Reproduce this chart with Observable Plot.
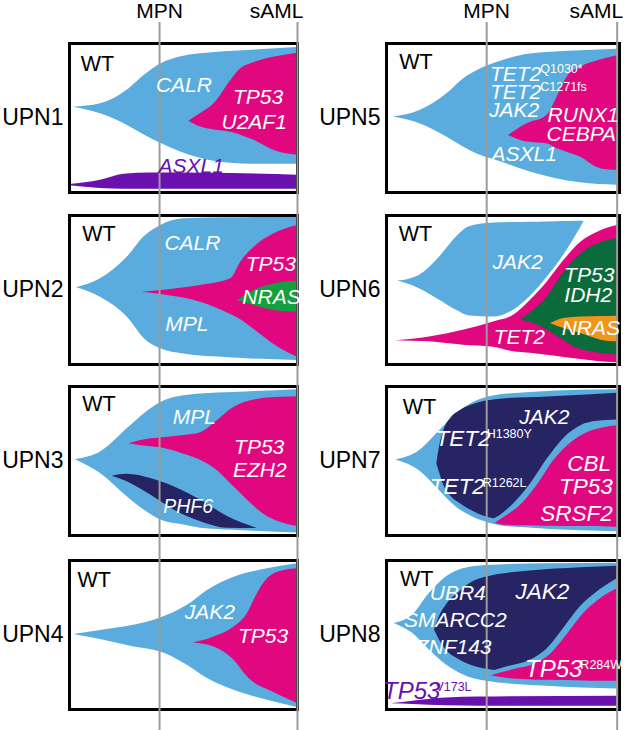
<!DOCTYPE html>
<html><head><meta charset="utf-8">
<script src="https://cdn.jsdelivr.net/npm/d3@7"></script>
<script src="https://cdn.jsdelivr.net/npm/@observablehq/plot@0.6"></script>
<style>
body{margin:0;background:#fff;}
#chart{display:flex;width:627px;height:730px;overflow:hidden;}
#c0{width:313px}#c1{width:314px}
#c0 svg,#c1 svg{display:block}
</style></head>
<body><div id="chart"><div id="c0"></div><div id="c1"></div></div>
<script>
// ---- column titles & time points (x in % of panel box width) ----
const stages = ["MPN", "sAML"];
const mpnX = [39.5, 43];     // left column, right column
const samlX = [100, 99];

// ---- clones: [time, top, bottom] (y in % of panel box height, 0 = top) ----
// UPN1
const upn1_CALR = [[1.6,42.8,42.8],[13.6,40.5,47.2],[26,30.5,55.5],[33,21.2,61.5],[40,13.8,67],[49,8.9,73],[64,6,79.2],[80,4.5,81],[100,2.7,81.1]];
const upn1_TP53 = [[52.4,52.1,52.1],[57.5,47,56.1],[63.4,40.5,58],[70.7,25,59.5],[75.1,17,61.5],[81,12.7,65],[90,9,72],[100,6.5,75]];
const upn1_ASXL1 = [[0,94.7,95.5],[13.6,91.8,97.3],[23.9,87.8,97.8],[35.6,86.9,97.8],[60,87,97.8],[100,88.4,97.8]];
// UPN2
const upn2_CALR = [[3.1,48.5,48.5],[13.6,42.5,54.8],[25.3,28,68.2],[33,14,83],[40,6.7,89.5],[50,2.2,93],[70,1.5,95.5],[100,1.1,97.3]];
const upn2_TP53 = [[31.9,51.5,51.5],[40,50.3,53],[57.5,47,58.2],[70.7,42.5,66.5],[75.1,31.3,70],[81,21.3,76.5],[89.7,12.3,86.5],[100,6.7,95.1]];
const upn2_NRAS = [[73.6,57,57],[81,50.3,60.4],[89.7,45.9,63.8],[100,44.1,64.9]];
// UPN3
const upn3_MPL = [[2.6,49.1,49.1],[13.6,44,58.4],[25.3,28.4,74],[32.7,18.4,82.9],[40,10.7,89.6],[50.2,6.2,93],[57.5,5,95.1],[72.2,4,96.5],[100,2.2,98.4]];
const upn3_TP53 = [[26.1,38.4,38.4],[35.6,35.1,40.5],[40,34.5,41.1],[50.2,32.9,45.5],[57.5,31,49.5],[64.9,22.9,56.5],[72.2,14,67.5],[86.8,7.8,87.3],[100,6.9,94]];
const upn3_PHF6 = [[18.7,60.2,60.2],[25.3,58.9,64],[35.6,61.8,72.9],[45.8,67.3,82.9],[57.5,76.2,90.7],[69.3,87.3,95.1],[82.4,95.3,95.3]];
// UPN4
const upn4_JAK2 = [[1.9,49.6,49.6],[13.6,46.9,53.1],[28.3,43.5,58],[40,38.6,61.4],[51.7,30.1,70.3],[60.5,20.1,79.2],[72.2,11.2,87.1],[86.8,5.6,93.8],[100,2.2,98.7]];
const upn4_TP53 = [[54.3,55.4,55.4],[63.4,51.3,58],[72.2,44.6,67],[78,35.7,78.1],[82.4,22.3,83.5],[86.8,12.3,86.5],[94.1,6.7,92],[100,5.6,96]];
// UPN5
const upn5_TET2 = [[2.9,49.4,49.4],[14.3,45,53.9],[25.8,33.9,62.8],[33,23.8,69.5],[40.2,17.1,75],[47.3,12.7,78.5],[61.7,7.1,86.2],[83.2,4.9,93.5],[99,3.8,95.1]];
const upn5_RUNX1 = [[52.4,61.7,61.7],[60.3,53.9,66.1],[68.9,48.3,67.3],[73.2,36.1,70.6],[77.5,22.7,73],[83.2,16,76.2],[91.8,11.1,84],[99,8.2,85.1]];
// UPN6
const upn6_JAK2 = [[4.8,44,44],[14.1,40.2,49.1],[22.8,27.9,56.9],[30,14.5,63.6],[35.8,7.4,67.5],[45.9,5.1,68.1],[54.5,4.7,63.6],[61.8,4.5,54.2],[69,4.3,41.3],[76.2,4.1,26.3],[81.8,3.9,12.3],[84.8,3.8,3.8]];
const upn6_TET2 = [[4,84,84],[18.5,81.5,84.8],[32.9,77,87.1],[45.9,71.4,88.5],[54.5,67,91.5],[61.8,56.9,92.5],[69,44.6,93.8],[76.2,30.1,95.3],[83.4,17.9,96.7],[90.6,11.2,98],[99,6.7,98.9]];
const upn6_TP53 = [[57.4,70.3,70.3],[63.2,63.6,72.5],[69,54.7,77],[74.7,41.3,82.6],[80.5,30.1,88.2],[87.7,21.2,91.5],[94.9,16.7,93.1],[99,15.2,93.8]];
const upn6_NRAS = [[70.4,72.5,72.5],[76.2,69.2,75.9],[83.4,68.1,79.2],[92.1,67.8,83.7],[99,67.6,84.8]];
// UPN7
const upn7_TET2 = [[4,49.3,49.3],[14.1,43.1,56.5],[22.8,29.7,69.9],[30,18.5,81],[37.2,10.7,87.7],[45.9,6.3,92.2],[61.8,4,94.9],[83.4,2.5,96.8],[99,2.2,97.5]];
const upn7_JAK2 = [[21.6,52,52],[22.6,42,57],[24.5,30,66],[27.5,21.5,73.5],[31.5,16.3,78.5],[40.1,10.7,86],[48.8,8.5,89.5],[69,7,92],[99,4.5,93.5]];
const upn7_sub = [[43,91.1,91.1],[48.8,86.6,93.5],[54.5,78.8,94.3],[61.8,65.4,94.8],[69,48.7,95.3],[76.5,34.2,95.8],[83.4,26.3,96],[90.6,23.4,96.3],[99,22.5,96.5]];
const upn7_CBL = [[46.6,91.7,91.7],[51.7,86.6,93.2],[57.4,79.9,93.5],[64.6,66.5,93.6],[71.7,49.8,93.8],[79.4,37.5,94],[86.3,30.8,94],[93.8,27.5,94.2],[99,26.3,94.4]];
// UPN8
const upn8_UBR4 = [[3.3,42.2,42.2],[11.2,36.7,48.9],[18.4,22.2,60],[25.6,11.1,70],[32.8,5.6,76.7],[42.9,3.3,81.1],[68.8,2.2,84.4],[99,1.8,86.2]];
const upn8_JAK2 = [[20.6,46.7,46.7],[22.7,37.8,53.3],[25.6,30,60],[31.4,21.1,66.7],[35.7,15.6,70],[42.9,11.1,73],[61.6,7.1,75.5],[83.2,4.9,76.3],[99,3.8,76.7]];
const upn8_sub = [[42.9,75.6,75.6],[51.5,71.5,80],[61.6,67,81.5],[68.8,59.5,82.2],[76,45.6,82.6],[83.2,31.1,83],[90.4,21.1,83.2],[99,12.2,83.3]];
const upn8_TP53b = [[45,77.3,77.3],[54.4,73.3,79.6],[63,70,80.2],[70.2,63.3,80.4],[77.4,50,80.6],[84.6,35.6,80.8],[91.8,25.6,81],[99,18.9,81.1]];
const upn8_TP53a = [[2.6,96,96.2],[11.2,94.4,96.7],[25.6,92.2,97.5],[40,91.6,97.8],[99,91.1,97.8]];

// ---- labels ----
const upn1_labels = [
  {x:12.3,y:13.8,text:"WT",kind:"wt"},{x:50.2,y:28.3,text:"CALR",kind:"clone"},
  {x:82.7,y:36,text:"TP53",kind:"clone"},{x:81,y:52.8,text:"U2AF1",kind:"clone"},
  {x:53.4,y:82.2,text:"ASXL1",kind:"purple"}];
const upn2_labels = [
  {x:12.9,y:12.3,text:"WT",kind:"wt"},{x:53.9,y:18.6,text:"CALR",kind:"clone"},
  {x:88.3,y:32.4,text:"TP53",kind:"clone"},{x:88.6,y:54.8,text:"NRAS",kind:"clone"},
  {x:51.5,y:72.7,text:"MPL",kind:"clone"}];
const upn3_labels = [
  {x:12.9,y:11.8,text:"WT",kind:"wt"},{x:54.8,y:20.7,text:"MPL",kind:"clone"},
  {x:83.2,y:40.7,text:"TP53",kind:"clone"},{x:83.5,y:56.2,text:"EZH2",kind:"clone"},
  {x:52,y:80.7,text:"PHF6",kind:"small"}];
const upn4_labels = [
  {x:10.8,y:13.4,text:"WT",kind:"wt"},{x:61.5,y:35,text:"JAK2",kind:"clone"},
  {x:84.9,y:50.9,text:"TP53",kind:"clone"}];
const upn5_labels = [
  {x:12.6,y:12.7,text:"WT",kind:"wt"},
  {x:55.4,y:20.5,text:"TET2",kind:"clone"},{x:66,y:17.2,text:"Q1030*",kind:"sup"},
  {x:55.4,y:32.7,text:"TET2",kind:"clone"},{x:66,y:29.5,text:"C1271fs",kind:"sup"},
  {x:54.8,y:45,text:"JAK2",kind:"clone"},{x:59.1,y:74.4,text:"ASXL1",kind:"clone"},
  {x:84.4,y:48.3,text:"RUNX1",kind:"clone"},{x:83.6,y:60.6,text:"CEBPA",kind:"clone"}];
const upn6_labels = [
  {x:12.4,y:12.3,text:"WT",kind:"wt"},{x:56.3,y:31.3,text:"JAK2",kind:"clone"},
  {x:87,y:40.2,text:"TP53",kind:"clone"},{x:86.6,y:53.6,text:"IDH2",kind:"clone"},
  {x:87.7,y:75.9,text:"NRAS",kind:"clone"},{x:57,y:81.5,text:"TET2",kind:"clone"}];
const upn7_labels = [
  {x:14.1,y:14.1,text:"WT",kind:"wt"},
  {x:32.8,y:35.3,text:"TET2",kind:"big"},{x:43,y:32,text:"H1380Y",kind:"sup"},
  {x:30.4,y:67.6,text:"TET2",kind:"big"},{x:41.3,y:64.8,text:"R1262L",kind:"sup"},
  {x:67.7,y:20.8,text:"JAK2",kind:"clone"},
  {x:87,y:52,text:"CBL",kind:"big"},{x:85.6,y:67.6,text:"TP53",kind:"big"},
  {x:81.5,y:85.5,text:"SRSF2",kind:"big"}];
const upn8_labels = [
  {x:13,y:12.2,text:"WT",kind:"wt"},{x:30.6,y:21.8,text:"UBR4",kind:"clone"},
  {x:29.5,y:40,text:"SMARCC2",kind:"clone"},{x:28.8,y:58.2,text:"ZNF143",kind:"clone"},
  {x:66.9,y:21.1,text:"JAK2",kind:"big"},
  {x:71.8,y:73.3,text:"TP53",kind:"huge"},{x:83.2,y:70.4,text:"R284W",kind:"sup"},
  {x:10.8,y:87.8,text:"TP53",kind:"purpleHuge"},{x:21,y:84.8,text:"V173L",kind:"purpleSup"}];

// ---- colours & styles ----
const BLUE = "#59acdd", PINK = "#e1077e", NAVY = "#272463", GREEN = "#13a03e",
      DKGREEN = "#0c6b3b", ORANGE = "#f0961d", PURPLE = "#6a10ae", LINE = "#9b9b9b";
const kinds = {
  wt:        {fill:"#000", fontSize:21.5, fontStyle:"normal", textAnchor:"middle"},
  clone:     {fill:"#fff", fontSize:21, fontStyle:"italic", textAnchor:"middle"},
  small:     {fill:"#fff", fontSize:19.5, fontStyle:"italic", textAnchor:"middle"},
  big:       {fill:"#fff", fontSize:22.5, fontStyle:"italic", textAnchor:"middle"},
  huge:      {fill:"#fff", fontSize:24, fontStyle:"italic", textAnchor:"middle"},
  sup:       {fill:"#fff", fontSize:12.5, fontStyle:"normal", textAnchor:"start"},
  purple:    {fill:PURPLE, fontSize:21, fontStyle:"italic", textAnchor:"middle"},
  purpleHuge:{fill:PURPLE, fontSize:24, fontStyle:"italic", textAnchor:"middle"},
  purpleSup: {fill:PURPLE, fontSize:12.5, fontStyle:"normal", textAnchor:"start"}
};

const panels = [
  {name:"UPN1", col:0, row:0, clones:[[upn1_CALR,BLUE],[upn1_TP53,PINK],[upn1_ASXL1,PURPLE]], labels:upn1_labels},
  {name:"UPN2", col:0, row:1, clones:[[upn2_CALR,BLUE],[upn2_TP53,PINK],[upn2_NRAS,GREEN]], labels:upn2_labels},
  {name:"UPN3", col:0, row:2, clones:[[upn3_MPL,BLUE],[upn3_TP53,PINK],[upn3_PHF6,NAVY]], labels:upn3_labels},
  {name:"UPN4", col:0, row:3, clones:[[upn4_JAK2,BLUE],[upn4_TP53,PINK]], labels:upn4_labels},
  {name:"UPN5", col:1, row:0, clones:[[upn5_TET2,BLUE],[upn5_RUNX1,PINK]], labels:upn5_labels},
  {name:"UPN6", col:1, row:1, clones:[[upn6_JAK2,BLUE],[upn6_TET2,PINK],[upn6_TP53,DKGREEN],[upn6_NRAS,ORANGE]], labels:upn6_labels},
  {name:"UPN7", col:1, row:2, clones:[[upn7_TET2,BLUE],[upn7_JAK2,NAVY],[upn7_sub,BLUE],[upn7_CBL,PINK]], labels:upn7_labels},
  {name:"UPN8", col:1, row:3, clones:[[upn8_UBR4,BLUE],[upn8_JAK2,NAVY],[upn8_sub,BLUE],[upn8_TP53b,PINK],[upn8_TP53a,PURPLE]], labels:upn8_labels}
];

// ---- layout ----
const BOX_H = 149;
const rowM = [{top:43,bottom:11},{top:12,bottom:11},{top:11,bottom:12},{top:13,bottom:21}];
const colG = [{width:313,left:69,right:16},{width:314,left:73,right:8}];
const FONT = "Arial, 'Liberation Sans', Helvetica, sans-serif";

function panel(p) {
  const m = rowM[p.row], c = colG[p.col];
  const ruleOpts = {stroke: LINE, strokeWidth: 2,
    insetTop: p.row === 0 ? -(m.top - 22) : -m.top, insetBottom: -m.bottom};
  const marks = [];
  for (const [data, color] of p.clones) {
    marks.push(Plot.area(data, {x1: d => d[0], y1: d => d[1], y2: d => d[2], fill: color, curve: "monotone-x"}));
  }
  marks.push(Plot.frame({stroke: "#000", strokeWidth: 3}));
  marks.push(Plot.ruleX([mpnX[p.col], samlX[p.col]], ruleOpts));
  for (const k of Object.keys(kinds)) {
    const rows = p.labels.filter(d => d.kind === k);
    if (rows.length) marks.push(Plot.text(rows, {x: "x", y: "y", text: "text", ...kinds[k], fontFamily: FONT}));
  }
  marks.push(Plot.text([p.name], {frameAnchor: "left", textAnchor: "end", dx: -6, fontSize: 23, fill: "#000", fontFamily: FONT}));
  if (p.row === 0) {
    marks.push(Plot.text([stages[0]], {x: () => mpnX[p.col], frameAnchor: "top", dy: -26, lineAnchor: "bottom", fontSize: 21, fill: "#000", fontFamily: FONT}));
    marks.push(Plot.text([stages[1]], {x: () => samlX[p.col], frameAnchor: "top", dy: -26, dx: 6, lineAnchor: "bottom", textAnchor: "end", fontSize: 21, fill: "#000", fontFamily: FONT}));
  }
  return Plot.plot({
    width: c.width, height: m.top + BOX_H + m.bottom,
    marginLeft: c.left, marginRight: c.right, marginTop: m.top, marginBottom: m.bottom,
    x: {domain: [0, 100], axis: null},
    y: {domain: [0, 100], reverse: true, axis: null},
    style: {background: "#fff", overflow: "hidden", fontFamily: FONT},
    marks
  });
}

for (const p of panels) {
  document.getElementById("c" + p.col).appendChild(panel(p));
}
</script></body></html>
